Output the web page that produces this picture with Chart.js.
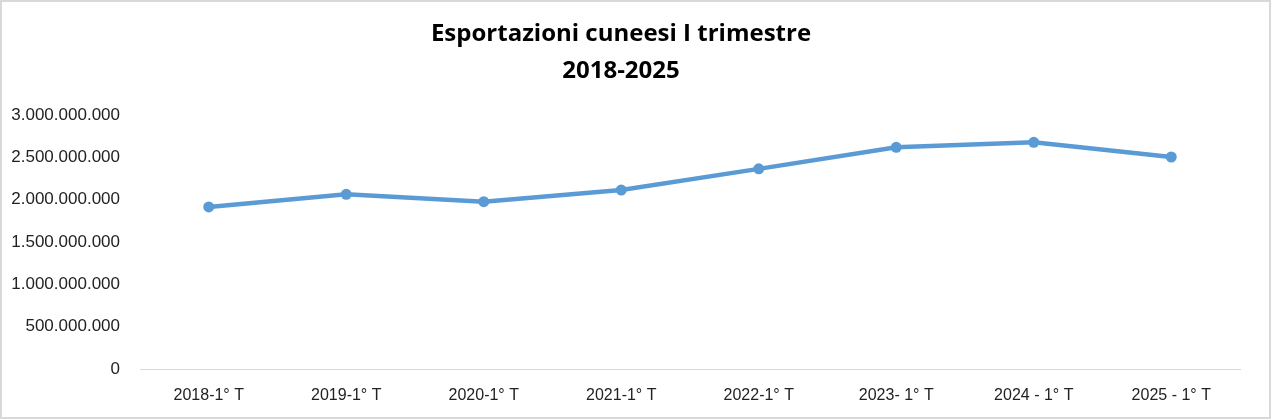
<!DOCTYPE html>
<html>
<head>
<meta charset="utf-8">
<script src="https://cdn.jsdelivr.net/npm/chart.js@4"></script>
<style>
  html, body { margin: 0; padding: 0; background: #fff; }
  #wrap { width: 1267px; height: 415px; border: 2px solid #d9d9d9; }
</style>
</head>
<body>
<div id="wrap"><canvas id="myChart"></canvas></div>
<script>
// valori (esportazioni I trimestre, euro)
var periodi = ["2018-1° T", "2019-1° T", "2020-1° T", "2021-1° T", "2022-1° T", "2023- 1° T", "2024 - 1° T", "2025 - 1° T"];
var esportazioni = [1913000000, 2062000000, 1975000000, 2113000000, 2363000000, 2617000000, 2676000000, 2503000000];
var titolo = ["Esportazioni cuneesi I trimestre", "2018-2025"];

function puntini(v){
  return String(Math.round(v)).replace(/\B(?=(\d{3})+(?!\d))/g, ".");
}

var ctx = document.getElementById("myChart");
var grafico = new Chart(ctx, {
  type: 'line',
  data: {
    labels: periodi,
    datasets: [{
      label: "Esportazioni",
      data: esportazioni,
      borderColor: "#5B9BD5",
      backgroundColor: "#5B9BD5",
      borderWidth: 4.5,
      pointRadius: 5.5,
      pointBackgroundColor: "#5B9BD5",
      pointBorderWidth: 0,
      tension: 0
    }]
  },
  options: {
    responsive: true,
    maintainAspectRatio: false,
    animation: false,
    layout: { padding: { left: 0, right: 29, top: 0, bottom: 0 } },
    plugins: {
      legend: { display: false },
      tooltip: { enabled: false },
      title: {
        display: true,
        text: titolo,
        color: "#000",
        font: { family: "'Open Sans'", size: 24, weight: 'bold', lineHeight: 1.54 },
        padding: { top: 14, bottom: 25 }
      }
    },
    scales: {
      x: {
        offset: true,
        grid: { display: false, drawTicks: false },
        border: { display: true, color: "#d9d9d9", width: 1 },
        afterFit: function(scale){ scale.height = 48; },
        ticks: {
          color: "#222",
          padding: 17,
          maxRotation: 0,
          autoSkip: false,
          font: { family: "'Liberation Sans'", size: 16 }
        }
      },
      y: {
        min: 0,
        max: 3000000000,
        grid: { display: false, drawTicks: false },
        border: { display: false },
        afterFit: function(scale){ scale.width = 138; },
        ticks: {
          stepSize: 500000000,
          color: "#222",
          padding: 20,
          font: { family: "'Liberation Sans'", size: 17 },
          callback: function(v){ return puntini(v); }
        }
      }
    }
  }
});
</script>
</body>
</html>
